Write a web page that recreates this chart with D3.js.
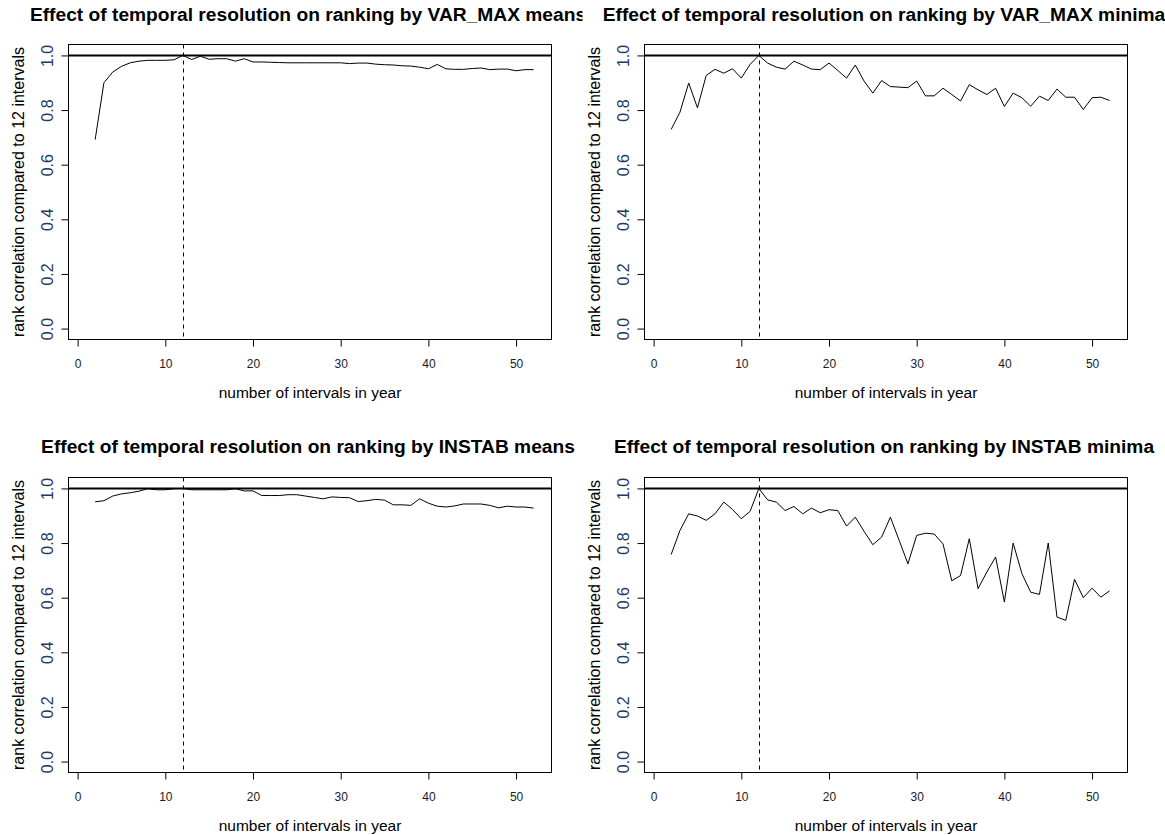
<!DOCTYPE html>
<html>
<head>
<meta charset="utf-8">
<script src="https://cdn.jsdelivr.net/npm/d3@7"></script>
<style>
body { margin: 0; background: #fff; }
svg { font-family: "Liberation Sans", Arial, sans-serif; }
</style>
</head>
<body>
<script>
// our data: x = number of intervals (2..52), y = rank correlation vs 12 intervals
var intervals = d3.range(2, 53);

var varMaxMeans = [0.692, 0.900, 0.939, 0.960, 0.973, 0.979, 0.982, 0.982, 0.982, 0.984,
	1.000, 0.985, 0.997, 0.986, 0.988, 0.988, 0.979, 0.988, 0.976, 0.976,
	0.975, 0.974, 0.973, 0.973, 0.973, 0.973, 0.973, 0.973, 0.973, 0.970,
	0.972, 0.972, 0.968, 0.966, 0.965, 0.962, 0.961, 0.957, 0.951, 0.967,
	0.951, 0.949, 0.949, 0.952, 0.954, 0.948, 0.950, 0.950, 0.944, 0.948, 0.948];

var varMaxMinima = [0.729, 0.792, 0.899, 0.808, 0.927, 0.949, 0.935, 0.951, 0.917, 0.967,
	1.000, 0.972, 0.957, 0.950, 0.979, 0.965, 0.950, 0.948, 0.972, 0.945,
	0.917, 0.965, 0.906, 0.862, 0.908, 0.886, 0.884, 0.882, 0.906, 0.852,
	0.852, 0.880, 0.857, 0.833, 0.893, 0.874, 0.857, 0.880, 0.813, 0.862,
	0.845, 0.814, 0.851, 0.835, 0.877, 0.847, 0.847, 0.802, 0.845, 0.847, 0.835];

var instabMeans = [0.951, 0.955, 0.972, 0.980, 0.984, 0.990, 0.999, 0.995, 0.995, 0.999,
	1.000, 0.995, 0.995, 0.995, 0.995, 0.995, 0.999, 0.991, 0.991, 0.974,
	0.974, 0.974, 0.977, 0.977, 0.972, 0.967, 0.962, 0.969, 0.967, 0.966,
	0.952, 0.955, 0.960, 0.957, 0.940, 0.940, 0.938, 0.962, 0.946, 0.935,
	0.932, 0.936, 0.943, 0.943, 0.943, 0.938, 0.929, 0.935, 0.932, 0.932, 0.928];

var instabMinima = [0.758, 0.846, 0.907, 0.899, 0.883, 0.907, 0.950, 0.923, 0.889, 0.916,
	1.000, 0.958, 0.950, 0.919, 0.934, 0.907, 0.928, 0.911, 0.922, 0.919,
	0.862, 0.895, 0.843, 0.794, 0.822, 0.895, 0.810, 0.724, 0.828, 0.836,
	0.833, 0.797, 0.662, 0.681, 0.816, 0.633, 0.694, 0.749, 0.584, 0.800,
	0.688, 0.620, 0.612, 0.800, 0.529, 0.517, 0.667, 0.600, 0.635, 0.602, 0.625];

var titles = [
	"Effect of temporal resolution on ranking by VAR_MAX means",
	"Effect of temporal resolution on ranking by VAR_MAX minima",
	"Effect of temporal resolution on ranking by INSTAB means",
	"Effect of temporal resolution on ranking by INSTAB minima"
];
var xTicks = [0, 10, 20, 30, 40, 50];
var yTicks = [0, 0.2, 0.4, 0.6, 0.8, 1.0];
var refInterval = 12;
var xLabel = "number of intervals in year";
var yLabel = "rank correlation compared to 12 intervals";

var width = 1165,
	height = 835;

var svg = d3.select("body").append("svg")
	.attr("width", width)
	.attr("height", height);

// plot boxes (2x2 layout)
var cols = [{x0: 68.5, x1: 551.5, clip0: 0, clip1: 582.5},
	{x0: 644.5, x1: 1127.5, clip0: 582.5, clip1: 1165}];
var rows = [{y0: 44.5, y1: 339.5, ty: 21}, {y0: 477.5, y1: 772.5, ty: 453}];

var series = [varMaxMeans, varMaxMinima, instabMeans, instabMinima];

series.forEach(function(values, i){
	var c = cols[i % 2], r = rows[Math.floor(i / 2)];
	drawPanel(i, values, titles[i], c, r);
});

function drawPanel(idx, values, title, c, r){
	// R style: x from 1..52 padded 4%, y from 0..1 padded 4%
	var x = d3.scaleLinear().domain([-1.04, 54.04]).range([c.x0, c.x1]);
	var y = d3.scaleLinear().domain([-0.04, 1.04]).range([r.y1, r.y0]);

	var g = svg.append("g");

	// title is cut at its own figure region, like R does
	var clipId = "clip" + idx;
	svg.append("clipPath").attr("id", clipId)
		.append("rect")
		.attr("x", c.clip0).attr("y", r.y0 - 45)
		.attr("width", c.clip1 - c.clip0).attr("height", 40);

	g.append("text")
		.attr("clip-path", "url(#" + clipId + ")")
		.attr("x", (c.x0 + c.x1) / 2 - 2)
		.attr("y", r.ty)
		.attr("text-anchor", "middle")
		.style("font-weight", "bold")
		.style("font-size", "19.2px")
		.text(title);

	// reference lines
	g.append("line")
		.attr("x1", c.x0).attr("x2", c.x1)
		.attr("y1", Math.round(y(1)) + 0.5).attr("y2", Math.round(y(1)) + 0.5)
		.attr("stroke", "#000").attr("stroke-width", 2);

	g.append("line")
		.attr("x1", Math.round(x(refInterval)) + 0.5).attr("x2", Math.round(x(refInterval)) + 0.5)
		.attr("y1", r.y0).attr("y2", r.y1)
		.attr("stroke", "#000").attr("stroke-width", 1)
		.attr("stroke-dasharray", "4,4");

	// the data line
	var line = d3.line()
		.x(function(d, j){ return x(intervals[j]); })
		.y(function(d){ return y(d); });

	g.append("path")
		.datum(values)
		.attr("d", line)
		.attr("fill", "none")
		.attr("stroke", "#000")
		.attr("stroke-width", 1);

	// box
	g.append("rect")
		.attr("x", c.x0).attr("y", r.y0)
		.attr("width", c.x1 - c.x0).attr("height", r.y1 - r.y0)
		.attr("fill", "none")
		.attr("stroke", "#000")
		.attr("stroke-width", 1);

	// x axis
	var xAxis = g.append("g")
		.attr("transform", "translate(0," + r.y1 + ")")
		.call(d3.axisBottom(x).tickValues(xTicks).tickSize(7).tickFormat(d3.format("d")));
	xAxis.select(".domain").remove();
	xAxis.selectAll(".tick line").attr("stroke", "#000");
	xAxis.selectAll(".tick text")
		.attr("y", 28).attr("dy", 0)
		.attr("fill", "#1a1a2a")
		.style("font-family", "\"Liberation Sans\", Arial, sans-serif")
		.style("font-size", "12px");

	// y axis, labels turned like R's las=0
	var yAxis = g.append("g")
		.attr("transform", "translate(" + c.x0 + ",0)")
		.call(d3.axisLeft(y).tickValues(yTicks).tickSize(7).tickFormat(d3.format(".1f")));
	yAxis.select(".domain").remove();
	yAxis.selectAll(".tick line").attr("stroke", "#000");
	yAxis.selectAll(".tick text")
		.attr("x", 0).attr("dy", 0)
		.attr("text-anchor", "middle")
		.attr("transform", "translate(-15.2,0) rotate(-90)")
		.attr("fill", "#243766")
		.style("font-family", "\"Liberation Sans\", Arial, sans-serif")
		.style("font-size", "16px");

	// axis titles
	g.append("text")
		.attr("x", (c.x0 + c.x1) / 2)
		.attr("y", r.y1 + 58.5)
		.attr("text-anchor", "middle")
		.style("font-size", "15.5px")
		.text(xLabel);

	g.append("text")
		.attr("transform", "translate(" + (c.x0 - 44.5) + "," + ((r.y0 + r.y1) / 2) + ") rotate(-90)")
		.attr("text-anchor", "middle")
		.style("font-size", "16px")
		.text(yLabel);
}
</script>
</body>
</html>
